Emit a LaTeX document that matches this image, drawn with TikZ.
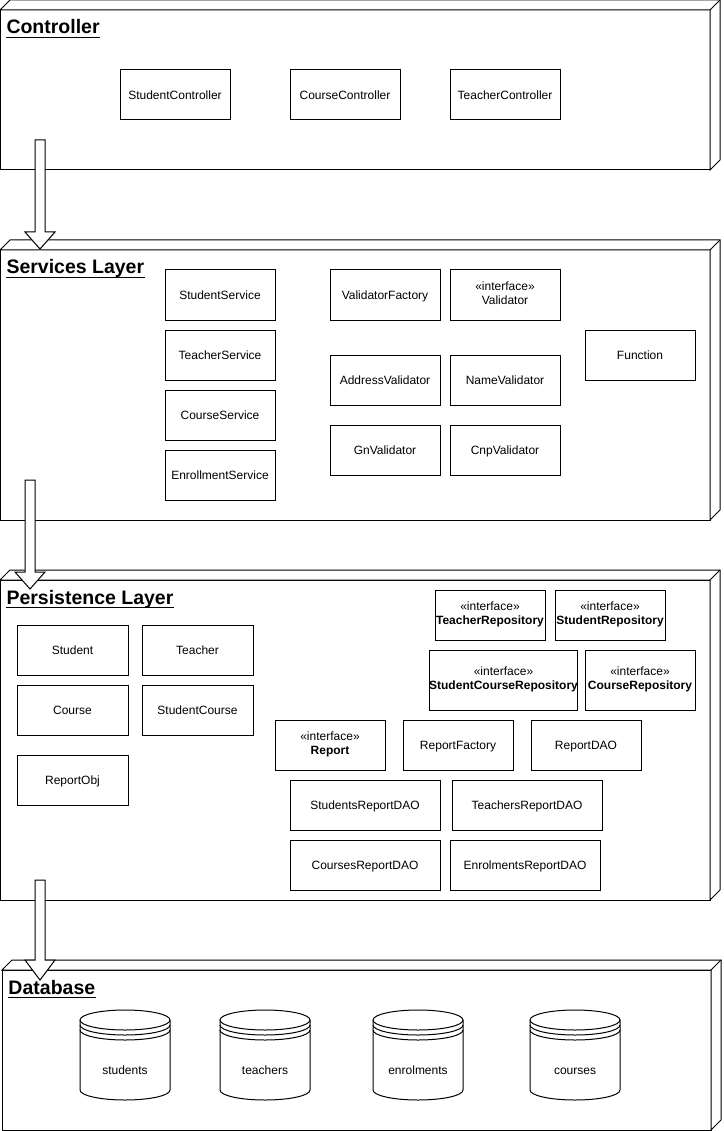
\documentclass[tikz,border=0pt]{standalone}
\usepackage{fontspec}
\setmainfont{Liberation Sans}
\newcommand\layerbox[4]{% xleft, ytop(back), ybottom(front), xright(front)
  \draw[fill=white] (#1,#2+10) rectangle (#4,#3);
  \draw[fill=white] (#1,#2+10) -- (#1+10,#2) -- (#4+10,#2) -- (#4+10,#3-10) -- (#4,#3) -- (#4,#2+10) -- cycle;
  \draw (#4,#2+10) -- (#4+10,#2);
}
\newcommand\blockarrow[4]{% xcenter, top, head start, tip
  \draw[fill=white] (#1-5,#2) -- (#1+5,#2) -- (#1+5,#3) -- (#1+15,#3) -- (#1,#4) -- (#1-15,#3) -- (#1-5,#3) -- cycle;
}
\newcommand\dbcyl[3]{% xcenter, ytop, name/label
  \draw[fill=white] (#1-45,#2+10) -- (#1-45,#2+80) arc[start angle=180,end angle=0,x radius=45,y radius=10] -- (#1+45,#2+10);
  \draw[fill=white] (#1,#2+10) ellipse[x radius=45,y radius=10];
  \draw (#1-45,#2+15) arc[start angle=180,end angle=0,x radius=45,y radius=10];
  \draw (#1-45,#2+20) arc[start angle=180,end angle=0,x radius=45,y radius=10];
  \node[txt] (#3) at (#1,#2+60) {#3};
}
\begin{document}
\begin{tikzpicture}[x=1pt,y=-1pt,line width=1pt,
  box/.style={draw,fill=white,inner sep=0pt,outer sep=0pt,minimum width=110pt,minimum height=50pt,font=\fontsize{12}{14}\selectfont,align=center,execute at begin node={\rule{0pt}{12.6pt}},execute at end node={\rule[-4pt]{0pt}{4pt}}},
  txt/.style={inner sep=0pt,font=\fontsize{12}{14}\selectfont,execute at begin node={\rule{0pt}{12.6pt}},execute at end node={\rule[-4pt]{0pt}{4pt}}},
  ttl/.style={font=\fontsize{19.5}{22}\selectfont\bfseries,anchor=base west,inner sep=0pt}]
\useasboundingbox (0,0) rectangle (723,1131);
% layers
\layerbox{0}{0}{170}{710}
\layerbox{0}{240}{520}{710}
\layerbox{0}{570}{900}{710}
\layerbox{2}{960}{1130}{711}
% arrows
\blockarrow{40}{140}{232}{249}
\blockarrow{30}{480}{572}{589}
\blockarrow{40}{880}{960}{980}
% titles
\node[ttl] (tc) at (6,34) {Controller};
\node[ttl] (ts) at (6,274) {Services Layer};
\node[ttl] (tp) at (6,604) {Persistence Layer};
\node[ttl] (td) at (8,994) {Database};
\foreach \t in {tc,ts,tp,td}{\draw[line width=1.6pt] ([yshift=-3.5pt]\t.base west) -- ([yshift=-3.5pt]\t.base east);}
% controller
\node[box] (sc) at (175,95) {StudentController};
\node[box] (cc) at (345,95) {CourseController};
\node[box] (tcc) at (505,95) {TeacherController};
% services
\node[box] (ss) at (220,295) {StudentService};
\node[box] (tse) at (220,355) {TeacherService};
\node[box] (cs) at (220,415) {CourseService};
\node[box] (es) at (220,475) {EnrollmentService};
\node[box] (vf) at (385,295) {ValidatorFactory};
\node[box] (val) at (505,295) {«interface»\\Validator};
\node[box] (fn) at (640,355) {Function};
\node[box] (av) at (385,380) {AddressValidator};
\node[box] (nv) at (505,380) {NameValidator};
\node[box] (gv) at (385,450) {GnValidator};
\node[box] (cv) at (505,450) {CnpValidator};
% persistence
\node[box,minimum width=111pt] (st) at (72.5,650) {Student};
\node[box,minimum width=111pt] (te) at (197.5,650) {Teacher};
\node[box,minimum width=111pt] (co) at (72.5,710) {Course};
\node[box,minimum width=111pt] (stc) at (197.5,710) {StudentCourse};
\node[box,minimum width=111pt] (ro) at (72.5,780) {ReportObj};
\node[box] (tr) at (490,615) {«interface»\\\textbf{TeacherRepository}};
\node[box] (sr) at (610,615) {«interface»\\\textbf{StudentRepository}};
\node[box,minimum width=147pt,minimum height=60pt] (scr) at (503.5,680) {«interface»\\\textbf{StudentCourseRepository}};
\node[box,minimum height=60pt] (cr) at (640,680) {«interface»\\\textbf{CourseRepository}};
\node[box] (rep) at (330,745) {«interface»\\\textbf{Report}};
\node[box] (rf) at (458,745) {ReportFactory};
\node[box] (rd) at (586,745) {ReportDAO};
\node[box,minimum width=150pt] (srd) at (365,805) {StudentsReportDAO};
\node[box,minimum width=150pt] (trd) at (527,805) {TeachersReportDAO};
\node[box,minimum width=150pt] (crd) at (365,865) {CoursesReportDAO};
\node[box,minimum width=150pt] (erd) at (525,865) {EnrolmentsReportDAO};
% database
\dbcyl{125}{1010}{students}
\dbcyl{265}{1010}{teachers}
\dbcyl{418}{1010}{enrolments}
\dbcyl{575}{1010}{courses}
\end{tikzpicture}
\end{document}
